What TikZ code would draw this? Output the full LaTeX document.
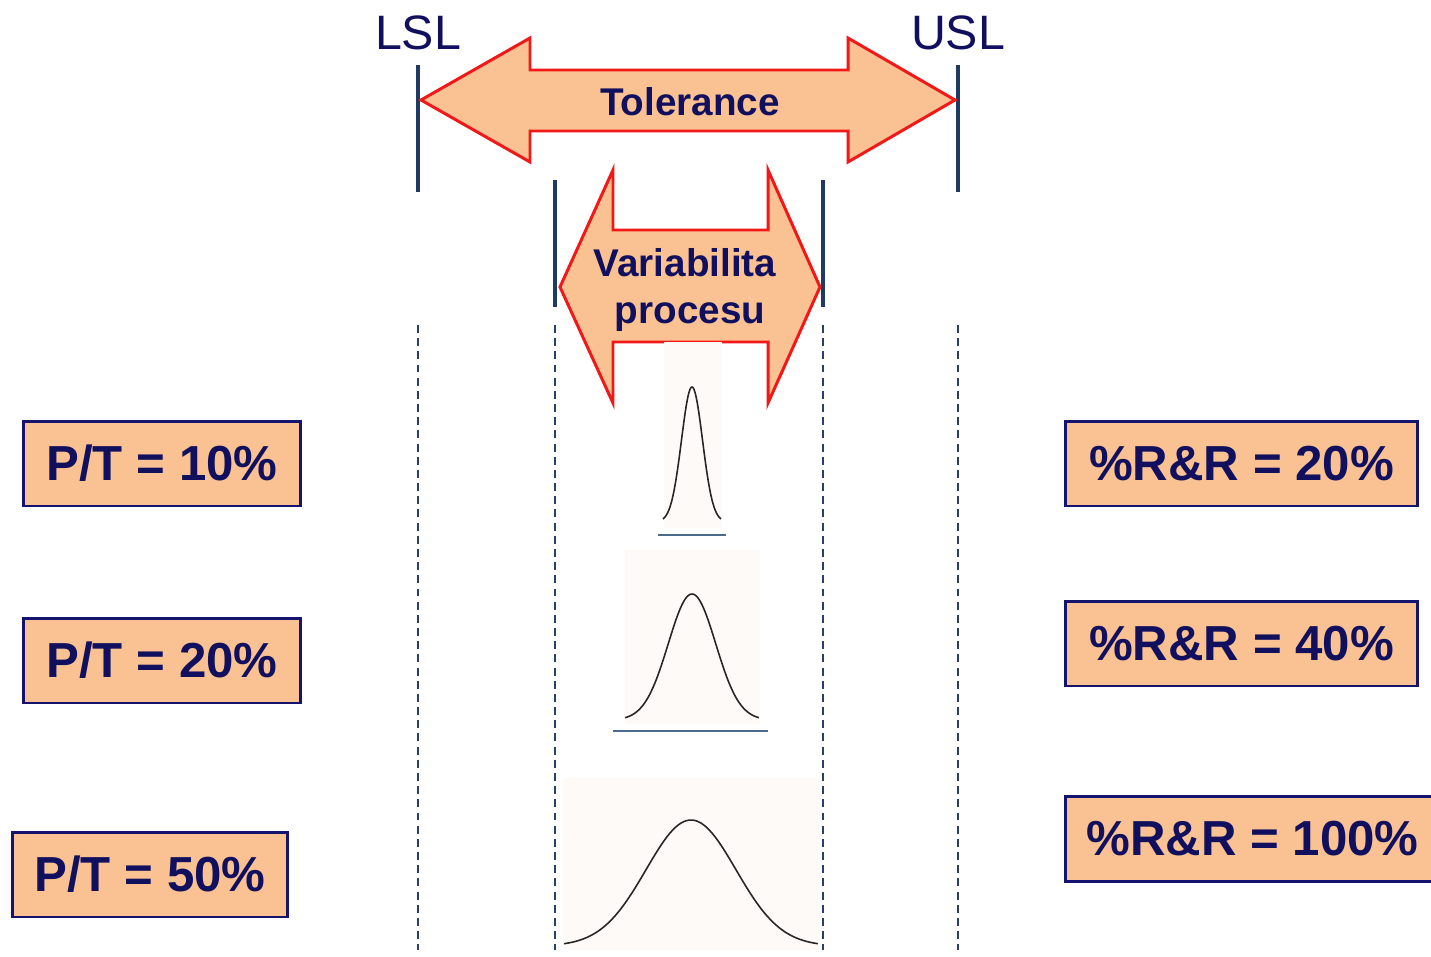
\documentclass[tikz,border=0pt]{standalone}
\usepackage{fontspec}
\setmainfont{Liberation Sans}
\definecolor{navytxt}{HTML}{10105E}
\definecolor{boxline}{HTML}{14146E}
\definecolor{boxfill}{HTML}{FAC292}
\definecolor{arrred}{HTML}{F01818}
\definecolor{limblue}{HTML}{1F3B64}
\definecolor{dashblue}{HTML}{2A3F66}
\definecolor{baseblue}{HTML}{4A6A8A}
\definecolor{curvebg}{HTML}{FEFAF7}
\tikzset{
  limline/.style={draw=limblue, line width=2pt},
  dashline/.style={draw=dashblue, line width=1.2pt, dash pattern=on 4.5pt off 3pt},
  bigarrow/.style={draw=arrred, fill=boxfill, line width=1.7pt, line join=miter},
  arrtext/.style={text=navytxt, font=\fontsize{22}{26}\selectfont\bfseries, inner sep=0pt},
  limtext/.style={text=navytxt, font=\fontsize{27.5}{32}\selectfont, inner sep=0pt},
  ratiobox/.style={draw=boxline, fill=boxfill, line width=1.7pt, text=navytxt,
    font=\fontsize{28}{32}\selectfont\bfseries, minimum height=1.7cm, inner sep=0pt},
  bellcurve/.style={draw=black!85, line width=0.9pt},
  baseline/.style={draw=baseblue, line width=0.9pt},
  bgrect/.style={fill=curvebg, draw=none}
}
\begin{document}
\begin{tikzpicture}[x=0.02cm, y=-0.02cm]
\useasboundingbox (0,0) rectangle (1431,957);
\clip (0,0) rectangle (1431,957);
\fill[white] (0,0) rectangle (1431,957);

% limit labels and lines
\node[limtext] (lsl) at (418,33) {LSL};
\node[limtext] (usl) at (958,33) {USL};
\draw[limline] (418,65) -- (418,192);
\draw[limline] (958,65) -- (958,192);
\draw[limline] (555,180) -- (555,307);
\draw[limline] (823,180) -- (823,307);

% dashed lines
\foreach \xx in {418,555,823,958}
  \draw[dashline] (\xx,325) -- (\xx,950);

% tolerance arrow
\draw[bigarrow] (421,100) -- (530,38) -- (530,70) -- (848,70) -- (848,38) -- (955,100)
  -- (848,162) -- (848,131) -- (530,131) -- (530,162) -- cycle;
\node[arrtext] (tol) at (690,102) {Tolerance};

% process variability arrow
\draw[bigarrow] (560,287) -- (613,170) -- (613,230) -- (768,230) -- (768,170) -- (820,287)
  -- (768,403) -- (768,342) -- (613,342) -- (613,403) -- cycle;
\node[arrtext] (var1) at (685,263) {Variabilita};
\node[arrtext] (var2) at (690,317) {procesu};

% curve 1 (narrow)
\fill[bgrect] (664,342) rectangle (722,528);
\draw[bellcurve] plot[domain=-1:1, samples=90] ({692+29*\x}, {522-135*exp(-3.8*\x*\x)});
\draw[baseline] (658,535) -- (726,535);

% curve 2 (medium)
\fill[bgrect] (625,550) rectangle (760,724);
\draw[bellcurve] plot[domain=-1:1, samples=90] ({692+67*\x}, {720-126*exp(-4.0*\x*\x)});
\draw[baseline] (613,731) -- (768,731);

% curve 3 (wide)
\fill[bgrect] (563,778) rectangle (820,950);
\draw[bellcurve] plot[domain=-1:1, samples=90] ({691+127*\x}, {946-126*exp(-4.0*\x*\x)});

% ratio boxes
\node[ratiobox, minimum width=5.56cm] (pt10) at (162,463.5) {P/T = 10\%};
\node[ratiobox, minimum width=5.56cm] (pt20) at (162,660.5) {P/T = 20\%};
\node[ratiobox, minimum width=5.52cm] (pt50) at (150,874.5) {P/T = 50\%};
\node[ratiobox, minimum width=7.06cm] (rr20) at (1241.5,463.5) {\%R\&R = 20\%};
\node[ratiobox, minimum width=7.06cm] (rr40) at (1241.5,643.5) {\%R\&R = 40\%};
\node[ratiobox, minimum width=7.5cm] (rr100) at (1252.5,839) {\%R\&R = 100\%};
\end{tikzpicture}
\end{document}
